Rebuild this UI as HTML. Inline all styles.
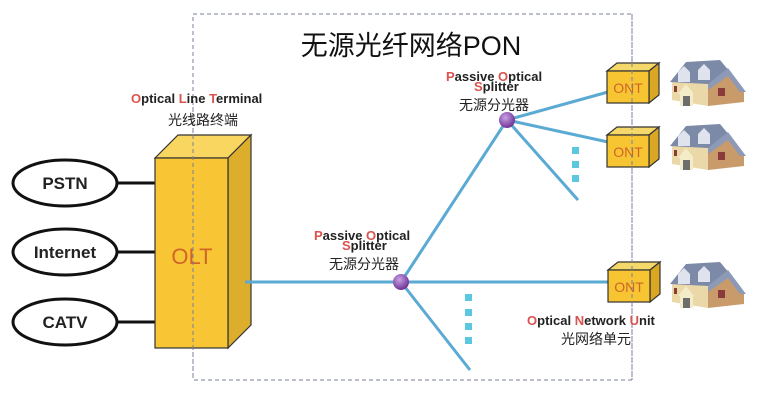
<!DOCTYPE html>
<html><head><meta charset="utf-8"><style>
html,body{margin:0;padding:0;background:#fff;}
svg{display:block;}
.l{font-family:"Liberation Sans",Arial,sans-serif;font-weight:bold;font-size:13px;fill:#222;}
.r{fill:#d9534f;}
.c{font-family:"Liberation Sans","Noto Sans CJK SC",sans-serif;font-size:14px;fill:#222;}
</style></head><body>
<svg width="761" height="400" viewBox="0 0 761 400" xmlns="http://www.w3.org/2000/svg">
<defs>
<radialGradient id="ball" cx="0.4" cy="0.35" r="0.7"><stop offset="0" stop-color="#c9a2e6"/><stop offset="1" stop-color="#6a2a8f"/></radialGradient>
<g id="ont">
<polygon points="0,8 10,0 52,0 42,8" fill="#f5d86a" stroke="#333" stroke-width="1.2"/>
<polygon points="42,8 52,0 52,32 42,40" fill="#d9a722" stroke="#333" stroke-width="1.2"/>
<rect x="0" y="8" width="42" height="32" fill="#f7c531" stroke="#333" stroke-width="1.2"/>
<text x="21" y="30" text-anchor="middle" font-family="Liberation Sans,sans-serif" font-size="14" fill="#d0652a">ONT</text>
</g>
<g id="house">
<polygon points="4,20 40,22 40,46 4,40" fill="#ead8a8"/>
<polygon points="40,22 60,10 76,30 76,42 40,46" fill="#c99a6a"/>
<polygon points="2,22 18,2 52,0 62,12 40,24" fill="#7c8aa8"/>
<polygon points="40,24 60,8 78,32 72,32 60,16 40,30" fill="#8c9ab8"/>
<polygon points="10,12 16,6 22,12 22,22 10,22" fill="#dfe3ee"/>
<polygon points="30,10 36,4 42,10 42,20 30,20" fill="#dfe3ee"/>
<polygon points="10,34 18,24 26,34" fill="#f4ecc8"/>
<rect x="12" y="34" width="13" height="12" fill="#f4ecc8"/>
<rect x="15" y="36" width="7" height="10" fill="#6d6d6d"/>
<rect x="50" y="28" width="7" height="8" fill="#8a3a3a"/>
<rect x="6" y="26" width="3" height="6" fill="#8a3a3a"/>
</g>
</defs>
<rect x="193" y="14" width="439" height="366" fill="none" stroke="#7a7f99" stroke-width="1" stroke-dasharray="4,3"/>
<text x="411" y="55" text-anchor="middle" font-family="Liberation Sans,'Noto Sans CJK SC',sans-serif" font-size="27" fill="#111">无源光纤网络PON</text>

<!-- ellipses -->
<g stroke="#111" stroke-width="3" fill="#fff">
<line x1="117" y1="183" x2="155" y2="183"/>
<line x1="117" y1="252" x2="155" y2="252"/>
<line x1="117" y1="322" x2="155" y2="322"/>
<ellipse cx="65" cy="183" rx="52" ry="23"/>
<ellipse cx="65" cy="252" rx="52" ry="23"/>
<ellipse cx="65" cy="322" rx="52" ry="23"/>
</g>
<g font-family="Liberation Sans,sans-serif" font-weight="bold" font-size="17" fill="#222" text-anchor="middle">
<text x="65" y="189">PSTN</text><text x="65" y="258">Internet</text><text x="65" y="328">CATV</text>
</g>

<!-- OLT -->
<polygon points="155,158 178,135 251,135 228,158" fill="#f9d660" stroke="#333" stroke-width="1.2"/>
<polygon points="228,158 251,135 251,325 228,348" fill="#ddae2c" stroke="#333" stroke-width="1.2"/>
<rect x="155" y="158" width="73" height="190" fill="#f8c634" stroke="#333" stroke-width="1.2"/>
<text x="192" y="264" text-anchor="middle" font-family="Liberation Sans,sans-serif" font-size="22" fill="#d0652a">OLT</text>
<line x1="193" y1="100" x2="193" y2="380" stroke="#7a7f99" stroke-dasharray="4,3"/>

<text x="131" y="103" class="l"><tspan class="r">O</tspan>ptical <tspan class="r">L</tspan>ine <tspan class="r">T</tspan>erminal</text>
<text x="203" y="125" class="c" text-anchor="middle">光线路终端</text>

<!-- fibers -->
<g stroke="#5aaad3" stroke-width="3" fill="none">
<line x1="245" y1="282" x2="401" y2="282"/>
<line x1="401" y1="282" x2="610" y2="282"/>
<line x1="401" y1="282" x2="507" y2="120"/>
<line x1="401" y1="282" x2="470" y2="370"/>
<line x1="507" y1="120" x2="608" y2="92"/>
<line x1="507" y1="120" x2="608" y2="142"/>
<line x1="507" y1="120" x2="578" y2="200"/>
</g>
<g fill="#5cc8e0">
<rect x="572" y="147" width="7" height="7"/><rect x="572" y="161" width="7" height="7"/><rect x="572" y="175" width="7" height="7"/>
<rect x="465" y="294" width="7" height="7"/><rect x="465" y="309" width="7" height="7"/><rect x="465" y="323" width="7" height="7"/><rect x="465" y="337" width="7" height="7"/>
</g>
<circle cx="401" cy="282" r="8" fill="url(#ball)"/>
<circle cx="507" cy="120" r="8" fill="url(#ball)"/>

<text x="314" y="240" class="l"><tspan class="r">P</tspan>assive <tspan class="r">O</tspan>ptical</text>
<text x="342" y="250" class="l"><tspan class="r">S</tspan>plitter</text>
<text x="364" y="269" class="c" text-anchor="middle">无源分光器</text>
<text x="446" y="81" class="l"><tspan class="r">P</tspan>assive <tspan class="r">O</tspan>ptical</text>
<text x="474" y="91" class="l"><tspan class="r">S</tspan>plitter</text>
<text x="494" y="110" class="c" text-anchor="middle">无源分光器</text>

<use href="#ont" x="607" y="63"/>
<use href="#ont" x="607" y="127"/>
<use href="#ont" x="608" y="262"/>
<line x1="632" y1="14" x2="632" y2="380" stroke="#7a7f99" stroke-dasharray="4,3"/>
<use href="#house" x="668" y="60"/>
<use href="#house" x="668" y="124"/>
<use href="#house" x="668" y="262"/>

<text x="527" y="325" class="l"><tspan class="r">O</tspan>ptical <tspan class="r">N</tspan>etwork <tspan class="r">U</tspan>nit</text>
<text x="596" y="344" class="c" text-anchor="middle">光网络单元</text>
</svg>
</body></html>
